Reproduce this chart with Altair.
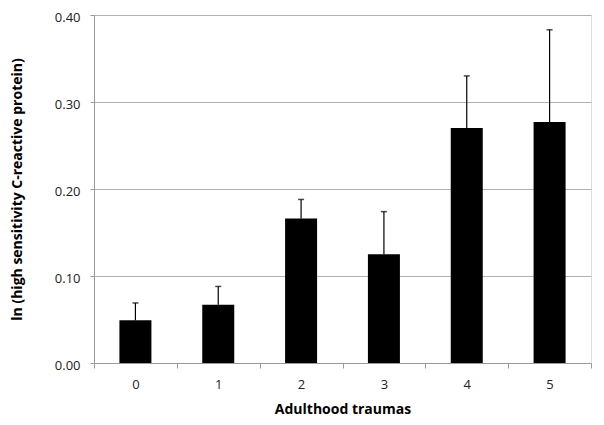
import altair as alt
import pandas as pd

categories = ["0", "1", "2", "3", "4", "5"]
means = [0.049, 0.067, 0.166, 0.125, 0.270, 0.277]
err_upper = [0.069, 0.088, 0.188, 0.174, 0.330, 0.383]

df = pd.DataFrame({"cat": categories, "mean": means, "upper": err_upper})

FONT = "Open Sans"

x = alt.X("cat:N", sort=categories, title="Adulthood traumas",
          scale=alt.Scale(paddingInner=0, paddingOuter=0),
          axis=alt.Axis(labelAngle=0, tickBand="extent", tickSize=5,
                        tickColor="#9a9a9a", domainColor="#9a9a9a",
                        labelPadding=10, labelFontSize=13, labelFont=FONT,
                        labelColor="#222222",
                        titleFont=FONT, titleFontSize=14, titleFontWeight="bold",
                        titlePadding=11, titleColor="#000000"))

y_scale = alt.Scale(domain=[0, 0.40])

bars = alt.Chart(df).mark_bar(size=32, color="#000000").encode(
    x=x,
    y=alt.Y("mean:Q", scale=y_scale, title="ln (high sensitivity C-reactive protein)",
            axis=alt.Axis(values=[0, 0.1, 0.2, 0.3, 0.4], format=".2f",
                          tickSize=4, tickColor="#9a9a9a", domainColor="#9a9a9a",
                          gridColor="#b0b0b0", gridWidth=1,
                          labelPadding=10, labelFontSize=13, labelFont=FONT,
                          labelColor="#222222", labelOffset=2,
                          titleFont=FONT, titleFontSize=14, titleFontWeight="bold",
                          titlePadding=30, titleColor="#000000")),
)

rules = alt.Chart(df).mark_rule(color="#000000", strokeWidth=1.2).encode(
    x=alt.X("cat:N", sort=categories),
    y=alt.Y("mean:Q", scale=y_scale),
    y2="upper:Q",
)

caps = alt.Chart(df).mark_tick(color="#000000", size=6, thickness=1.5).encode(
    x=alt.X("cat:N", sort=categories),
    y=alt.Y("upper:Q", scale=y_scale),
)

chart = alt.layer(bars, rules, caps).properties(
    width=497, height=348,
    autosize=alt.AutoSizeParams(type="none"),
    padding={"left": 86, "top": 7, "right": 5, "bottom": 54},
).configure_view(stroke=None).configure(background="#ffffff")

chart.save("out.html", embed_options={"renderer": "svg", "actions": False})
